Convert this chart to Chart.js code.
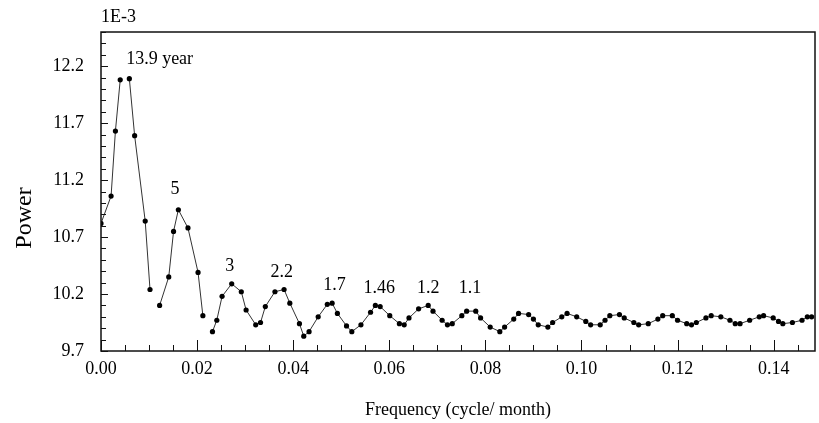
<!DOCTYPE html>
<html lang="en">
<head>
    <meta charset="UTF-8">
    <script src="https://cdn.jsdelivr.net/npm/chart.js"></script>
    <title>Power spectrum</title>
    <style>
        html, body { margin: 0; padding: 0; background: #fff; }
        #wrap { width: 819px; height: 423px; }
    </style>
</head>
<body>
    <div id="wrap"><canvas id="spectrum"></canvas></div>

    <script>
        // frequency (cycle/month) and power (x 1E-3); null breaks the line
        const freqs = [
            0.0000, 0.0021, 0.0030, 0.0040, 0.0050, 0.0059, 0.0070, 0.0092, 0.0102, 0.0112,
            0.0122, 0.0141, 0.0151, 0.0161, 0.0181, 0.0202, 0.0212, 0.0222,
            0.0232, 0.0241, 0.0252, 0.0272, 0.0292, 0.0302, 0.0322, 0.0332, 0.0342, 0.0362,
            0.0381, 0.0393, 0.0413, 0.0422, 0.0433, 0.0452, 0.0471, 0.0481, 0.0492, 0.0511,
            0.0522, 0.0541, 0.0561, 0.0571, 0.0581, 0.0601, 0.0621, 0.0631, 0.0641, 0.0661,
            0.0681, 0.0691, 0.0710, 0.0721, 0.0731, 0.0751, 0.0761, 0.0780, 0.0790, 0.0810,
            0.0830, 0.0840, 0.0859, 0.0869, 0.0890, 0.0900, 0.0910, 0.0930, 0.0940, 0.0959,
            0.0970, 0.0990, 0.1009, 0.1019, 0.1039, 0.1049, 0.1059, 0.1079, 0.1089, 0.1109,
            0.1119, 0.1139, 0.1159, 0.1169, 0.1189, 0.1200, 0.1219, 0.1229, 0.1239, 0.1259,
            0.1270, 0.1290, 0.1309, 0.1320, 0.1330, 0.1350, 0.1370, 0.1379, 0.1399, 0.1410,
            0.1419, 0.1439, 0.1459, 0.1470, 0.1479
        ];
        const powers = [
            10.82, 11.06, 11.63, 12.08, null, 12.09, 11.59, 10.84, 10.24, null,
            10.10, 10.35, 10.75, 10.94, 10.78, 10.39, 10.01, null,
            9.87, 9.97, 10.18, 10.29, 10.22, 10.06, 9.93, 9.95, 10.09, 10.22,
            10.24, 10.12, 9.94, 9.83, 9.87, 10.00, 10.11, 10.12, 10.03, 9.92,
            9.87, 9.93, 10.04, 10.10, 10.09, 10.01, 9.94, 9.93, 9.99, 10.07,
            10.10, 10.05, 9.97, 9.93, 9.94, 10.01, 10.05, 10.05, 9.99, 9.91,
            9.87, 9.91, 9.98, 10.03, 10.02, 9.98, 9.93, 9.91, 9.95, 10.00,
            10.03, 10.00, 9.96, 9.93, 9.93, 9.97, 10.01, 10.02, 9.99, 9.95,
            9.93, 9.94, 9.98, 10.01, 10.01, 9.97, 9.94, 9.93, 9.95, 9.99,
            10.01, 10.00, 9.97, 9.94, 9.94, 9.97, 10.00, 10.01, 9.99, 9.96,
            9.94, 9.95, 9.97, 10.00, 10.00
        ];

        // period labels over the peaks
        const peakLabels = ['13.9 year', '5', '3', '2.2', '1.7', '1.46', '1.2', '1.1'];
        const peakFreqs = [0.0122, 0.0154, 0.0268, 0.0376, 0.0486, 0.0579, 0.0681, 0.0768];
        const peakPowers = [12.26, 11.12, 10.44, 10.39, 10.28, 10.255, 10.25, 10.25];

        const xTicks = [0, 0.02, 0.04, 0.06, 0.08, 0.10, 0.12, 0.14];
        const yTicks = [9.7, 10.2, 10.7, 11.2, 11.7, 12.2];

        const serif = '"Liberation Serif", "Times New Roman", serif';

        const points = freqs.map((f, i) => ({ x: f, y: powers[i] }));

        // box, inward tick marks and text labels
        const decor = {
            id: 'decor',
            afterDraw(chart) {
                const c = chart.ctx;
                const a = chart.chartArea;
                const xs = chart.scales.x;
                const ys = chart.scales.y;
                c.save();
                c.strokeStyle = '#111';
                c.lineWidth = 1.5;
                c.strokeRect(a.left, a.top, a.right - a.left, a.bottom - a.top);

                c.lineWidth = 1;
                c.beginPath();
                for (let k = 0; k <= 30; k++) {
                    const v = k * 0.005;
                    const px = Math.round(xs.getPixelForValue(v)) + 0.5;
                    if (px > a.right - 1) break;
                    const len = k % 4 === 0 ? 11 : 6;
                    c.moveTo(px, a.bottom);
                    c.lineTo(px, a.bottom - len);
                }
                for (let k = 0; k <= 28; k++) {
                    const v = 9.7 + k * 0.1;
                    const py = Math.round(ys.getPixelForValue(v)) + 0.5;
                    const len = k % 5 === 0 ? 7 : 5;
                    c.moveTo(a.left, py);
                    c.lineTo(a.left + len, py);
                }
                c.stroke();

                c.fillStyle = '#000';
                c.font = '18px ' + serif;
                c.textAlign = 'center';
                c.textBaseline = 'middle';
                peakLabels.forEach((t, i) => {
                    c.fillText(t, xs.getPixelForValue(peakFreqs[i]), ys.getPixelForValue(peakPowers[i]));
                });

                c.textAlign = 'left';
                c.fillText('1E-3', a.left, 17);

                // y axis title, sits a little below the plot centre
                c.translate(25, 218);
                c.rotate(-Math.PI / 2);
                c.textAlign = 'center';
                c.font = '24px ' + serif;
                c.fillText('Power', 0, 0);
                c.restore();
            }
        };

        new Chart(document.getElementById('spectrum'), {
            type: 'line',
            data: {
                datasets: [{
                    data: points,
                    borderColor: '#333',
                    borderWidth: 1,
                    pointRadius: 2.6,
                    pointBackgroundColor: '#000',
                    pointBorderWidth: 0,
                    spanGaps: false,
                    tension: 0
                }]
            },
            options: {
                responsive: true,
                maintainAspectRatio: false,
                animation: false,
                layout: { padding: { top: 32, right: 1, left: 0, bottom: 0 } },
                plugins: { legend: { display: false }, tooltip: { enabled: false } },
                scales: {
                    x: {
                        type: 'linear',
                        min: 0,
                        max: 0.1486,
                        afterBuildTicks: s => { s.ticks = xTicks.map(v => ({ value: v })); },
                        afterFit: s => { s.height = 72; },
                        grid: { display: false, drawTicks: false },
                        border: { display: false },
                        ticks: {
                            padding: 7,
                            color: '#000',
                            font: { family: serif, size: 18 },
                            callback: v => v.toFixed(2)
                        },
                        title: {
                            display: true,
                            text: 'Frequency (cycle/ month)',
                            color: '#000',
                            font: { family: serif, size: 18 },
                            padding: { top: 0, bottom: 2 }
                        }
                    },
                    y: {
                        min: 9.7,
                        max: 12.5,
                        afterBuildTicks: s => { s.ticks = yTicks.map(v => ({ value: v })); },
                        afterFit: s => { s.width = 101; },
                        grid: { display: false, drawTicks: false },
                        border: { display: false },
                        ticks: {
                            padding: 17,
                            color: '#000',
                            font: { family: serif, size: 18 },
                            callback: v => v.toFixed(1)
                        }
                    }
                }
            },
            plugins: [decor]
        });
    </script>
</body>
</html>
